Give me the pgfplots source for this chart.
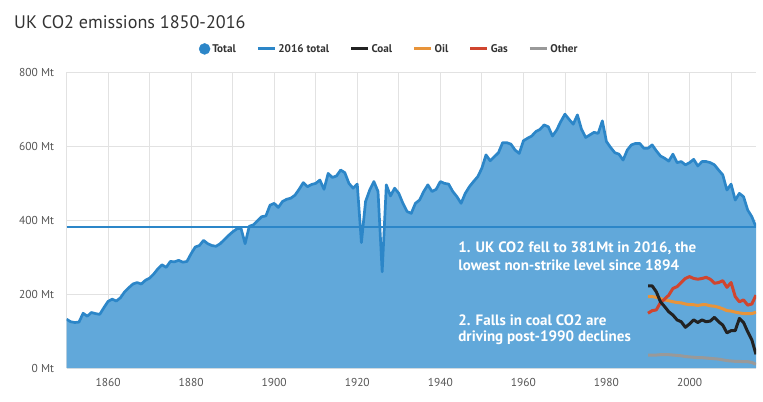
\documentclass[border=0pt]{standalone}
\usepackage{pgfplots}
\pgfplotsset{compat=1.18}
\usepackage{pgfplotstable}
\usepackage{fontspec}
\setmainfont{PT Sans}
\definecolor{areablue}{RGB}{97,168,218}
\definecolor{lineblue}{RGB}{44,134,200}
\definecolor{gridgray}{RGB}{226,226,226}
\definecolor{tickgray}{RGB}{85,85,85}
\definecolor{titlegray}{RGB}{51,51,51}
\definecolor{coalc}{RGB}{34,34,34}
\definecolor{oilc}{RGB}{232,148,58}
\definecolor{gasc}{RGB}{208,69,47}
\definecolor{otherc}{RGB}{153,153,153}

\pgfplotstableread{
year total
1850 132
1851 125
1852 123
1853 124
1854 148
1855 140
1856 150
1857 147
1858 145
1859 163
1860 180
1861 186
1862 181
1863 190
1864 206
1865 217
1866 227
1867 231
1868 227
1869 237
1870 243
1871 254
1872 268
1873 279
1874 272
1875 288
1876 287
1877 291
1878 286
1879 288
1880 309
1881 327
1882 331
1883 345
1884 336
1885 331
1886 329
1887 336
1888 347
1889 358
1890 368
1891 376
1892 378
1893 336
1894 383
1895 387
1896 398
1897 409
1898 411
1899 440
1900 445
1901 434
1902 450
1903 456
1904 459
1905 467
1906 483
1907 501
1908 490
1909 496
1910 499
1911 508
1912 483
1913 526
1914 515
1915 519
1916 535
1917 528
1918 499
1919 486
1920 497
1921 339
1922 450
1923 481
1924 504
1925 477
1926 260
1927 495
1928 465
1929 486
1930 472
1931 445
1932 423
1933 418
1934 445
1935 454
1936 477
1937 495
1938 477
1939 483
1940 504
1941 499
1942 497
1943 477
1944 463
1945 445
1946 472
1947 490
1948 504
1949 517
1950 540
1951 576
1952 560
1953 571
1954 582
1955 609
1956 609
1957 605
1958 589
1959 580
1960 614
1961 621
1962 627
1963 639
1964 645
1965 657
1966 652
1967 627
1968 643
1969 666
1970 686
1971 672
1972 659
1973 684
1974 645
1975 623
1976 630
1977 637
1978 634
1979 668
1980 612
1981 596
1982 582
1983 578
1984 562
1985 589
1986 603
1987 607
1988 607
1989 594
1990 594
1991 603
1992 587
1993 573
1994 567
1995 559
1996 578
1997 555
1998 558
1999 549
2000 555
2001 564
2002 546
2003 558
2004 558
2005 555
2006 549
2007 535
2008 522
2009 481
2010 497
2011 454
2012 472
2013 463
2014 427
2015 409
2016 381
}\totaldata

\pgfplotstableread{
year coal oil gas other
1990 222 193 148 35
1991 222 193 155 35
1992 206 191 157 35
1993 179 188 177 36
1994 166 184 186 36
1995 152 182 197 36
1996 143 179 215 35
1997 130 177 220 34
1998 125 176 231 33
1999 110 173 242 31
2000 119 171 247 30
2001 130 171 242 29
2002 123 169 240 28
2003 130 171 242 28
2004 125 171 245 27
2005 127 168 240 26
2006 137 167 229 25
2007 125 164 231 24
2008 116 160 236 22
2009 95 155 218 20
2010 101 154 231 19
2011 101 151 193 18
2012 134 149 179 18
2013 123 147 184 17
2014 98 147 170 17
2015 76 147 173 15
2016 37 151 197 10
}\fueldata

\begin{document}
\begin{tikzpicture}
\useasboundingbox (0,0) rectangle (763bp,-402bp);
\node[anchor=base west, inner sep=0pt, text=titlegray, font=\fontsize{18.2}{21}\selectfont] at (14bp,-28bp) {UK CO2 emissions 1850-2016};
\begin{axis}[
  at={(66.5bp,-368bp)}, anchor=south west,
  scale only axis, width=689.5bp, height=296bp,
  xmin=1850, xmax=2016, ymin=0, ymax=800,
  xtick={1860,1880,...,2000},
  minor xtick={1850,1870,...,2010},
  ytick={0,200,...,800},
  grid=both,
  major grid style={draw=gridgray, line width=0.8bp},
  minor grid style={draw=gridgray, line width=0.8bp},
  axis line style={draw=none},
  tick style={draw=none},
  /pgf/number format/.cd, 1000 sep={}, assume math mode=true, /pgfplots/.cd,
  yticklabel={\pgfmathprintnumber{\tick} Mt},
  ticklabel style={font=\fontsize{11.5}{13}\selectfont, text=tickgray},
  yticklabel style={xshift=-9bp},
  xticklabel style={yshift=-7bp},
  legend columns=6,
  legend style={at={(0.468,1.078)}, anchor=center, draw=none, fill=none,
    font=\bfseries\fontsize{11.2}{13}\selectfont, text=titlegray,
    /tikz/every even column/.append style={column sep=18.5bp}},
  legend image code/.code={\draw[#1, line width=3bp] (0bp,0bp) -- (17bp,0bp);},
]
\addplot[fill=areablue, draw=none, forget plot] table[x=year, y=total] {\totaldata} \closedcycle;
\addplot[lineblue, line width=2.2bp, forget plot] coordinates {(1850,381) (2016,381)};
\addplot[lineblue, line width=2.7bp, line join=round, forget plot] table[x=year, y=total] {\totaldata};
\addplot[otherc, line width=3bp, line join=round, forget plot] table[x=year, y=other] {\fueldata};
\addplot[oilc, line width=3bp, line join=round, forget plot] table[x=year, y=oil] {\fueldata};
\addplot[gasc, line width=3bp, line join=round, forget plot] table[x=year, y=gas] {\fueldata};
\addplot[coalc, line width=3bp, line join=round, forget plot] table[x=year, y=coal] {\fueldata};

\addlegendimage{legend image code/.code={\fill[lineblue] (8bp,0bp) circle (5.5bp);}}
\addlegendentry{Total}
\addlegendimage{lineblue}
\addlegendentry{2016 total}
\addlegendimage{coalc}
\addlegendentry{Coal}
\addlegendimage{oilc}
\addlegendentry{Oil}
\addlegendimage{gasc}
\addlegendentry{Gas}
\addlegendimage{otherc}
\addlegendentry{Other}

\node[anchor=base west, inner sep=0pt, text=white, font=\bfseries\fontsize{15.1}{17}\selectfont] at (axis cs:1944.3,311.6) {1. UK CO2 fell to 381Mt in 2016, the};
\node[anchor=base west, inner sep=0pt, text=white, font=\bfseries\fontsize{15.1}{17}\selectfont] at (axis cs:1944.3,262.9) {lowest non-strike level since 1894};
\node[anchor=base west, inner sep=0pt, text=white, font=\bfseries\fontsize{15.1}{17}\selectfont] at (axis cs:1944.3,116.2) {2. Falls in coal CO2 are};
\node[anchor=base west, inner sep=0pt, text=white, font=\bfseries\fontsize{15.1}{17}\selectfont] at (axis cs:1944.3,71.1) {driving post-1990 declines};
\end{axis}
\end{tikzpicture}
\end{document}
